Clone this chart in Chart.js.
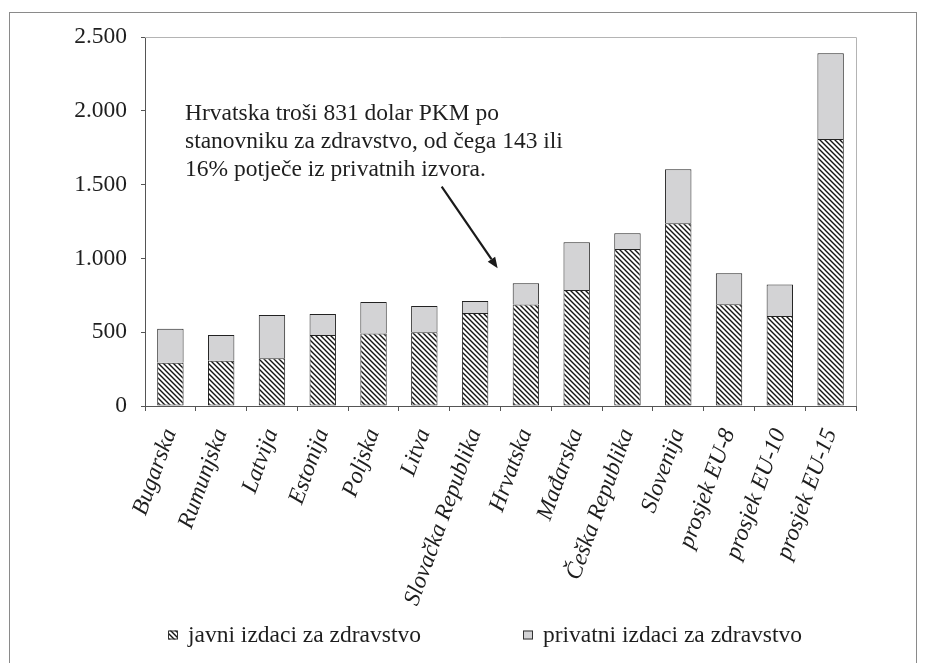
<!DOCTYPE html>
<html>
<head>
<meta charset="utf-8">
<script src="https://cdn.jsdelivr.net/npm/chart.js@4"></script>
<style>
  html, body { margin: 0; padding: 0; background: #fff; }
  #frame { position: absolute; left: 9px; top: 12px; width: 906px; height: 700px; border: 1px solid #8a8a8a; }
  #wrap { position: absolute; left: 0; top: 0; width: 928px; height: 663px; }
</style>
</head>
<body>
<div id="frame"></div>
<div id="wrap"><canvas id="c" width="928" height="663"></canvas></div>
<script>
// Health spending per capita (USD PPP), public and private parts
const categories = [
  'Bugarska', 'Rumunjska', 'Latvija', 'Estonija', 'Poljska', 'Litva',
  'Slovačka Republika', 'Hrvatska', 'Mađarska', 'Češka Republika',
  'Slovenija', 'prosjek EU-8', 'prosjek EU-10', 'prosjek EU-15'
];
const publicSpending  = [293, 307, 323, 481, 492, 499, 630, 688, 786, 1064, 1238, 689, 610, 1809];
const privateSpending = [231, 174, 294, 142, 213, 178,  81, 143, 323,  106,  366, 210, 214,  581];
const yTicks = [0, 500, 1000, 1500, 2000, 2500];
const seriesNames = ['javni izdaci za zdravstvo', 'privatni izdaci za zdravstvo'];
const noteLines = [
  'Hrvatska troši 831 dolar PKM po',
  'stanovniku za zdravstvo, od čega 143 ili',
  '16% potječe iz privatnih izvora.'
];

const SERIF = '"Liberation Serif", "Times New Roman", serif';
const FONT_SIZE = 23.5;
const TEXT = '#1e1e1e';
const AXIS_H = 200;

const canvas = document.getElementById('c');
const mainCtx = canvas.getContext('2d');

// diagonal hatch fill for the public share
function makeHatch() {
  const s = 5;
  const t = document.createElement('canvas');
  t.width = s; t.height = s;
  const g = t.getContext('2d');
  g.fillStyle = '#ffffff';
  g.fillRect(0, 0, s, s);
  g.strokeStyle = '#141414';
  g.lineWidth = 1.4;
  g.beginPath();
  g.moveTo(-1, -1); g.lineTo(s + 1, s + 1);
  g.moveTo(-1, s - 1); g.lineTo(1, s + 1);
  g.moveTo(s - 1, -1); g.lineTo(s + 1, 1);
  g.stroke();
  return mainCtx.createPattern(t, 'repeat');
}
const hatch = makeHatch();
const privateFill = '#d3d3d5';

function thousands(v) {
  return String(v).replace(/\B(?=(\d{3})+(?!\d))/g, '.');
}

// light frame on the top and right of the plot area
const plotFrame = {
  id: 'plotFrame',
  beforeDatasetsDraw(chart) {
    const { ctx, chartArea: a } = chart;
    ctx.save();
    ctx.strokeStyle = '#b4b4b4';
    ctx.lineWidth = 1;
    ctx.beginPath();
    ctx.moveTo(a.left, a.top + 0.5);
    ctx.lineTo(a.right + 0.5, a.top + 0.5);
    ctx.lineTo(a.right + 0.5, a.bottom);
    ctx.stroke();
    ctx.restore();
  }
};

// callout text and arrow pointing at Hrvatska
const note = {
  id: 'note',
  afterDatasetsDraw(chart) {
    const { ctx, scales: { x, y } } = chart;
    ctx.save();
    ctx.font = FONT_SIZE + 'px ' + SERIF;
    ctx.fillStyle = TEXT;
    ctx.textAlign = 'left';
    ctx.textBaseline = 'alphabetic';
    const tx = x.getPixelForValue(0.288);
    const ty = y.getPixelForValue(1935);
    noteLines.forEach((line, i) => ctx.fillText(line, tx, ty + i * 28));

    const x0 = x.getPixelForValue(5.342), y0 = y.getPixelForValue(1486);
    const x1 = x.getPixelForValue(6.444), y1 = y.getPixelForValue(933);
    const ang = Math.atan2(y1 - y0, x1 - x0);
    const head = 11, half = 4.5;
    const bx = x1 - head * Math.cos(ang), by = y1 - head * Math.sin(ang);
    ctx.strokeStyle = '#1a1a1a';
    ctx.lineWidth = 2.2;
    ctx.beginPath();
    ctx.moveTo(x0, y0);
    ctx.lineTo(bx, by);
    ctx.stroke();
    ctx.fillStyle = '#1a1a1a';
    ctx.beginPath();
    ctx.moveTo(x1, y1);
    ctx.lineTo(bx + half * Math.sin(ang), by - half * Math.cos(ang));
    ctx.lineTo(bx - half * Math.sin(ang), by + half * Math.cos(ang));
    ctx.closePath();
    ctx.fill();
    ctx.restore();
  }
};

// legend row under the category labels
const legendRow = {
  id: 'legendRow',
  afterDraw(chart) {
    const { ctx, chartArea: a } = chart;
    const cy = 635;
    const starts = [a.left + 23, a.left + 378];
    ctx.save();
    ctx.font = FONT_SIZE + 'px ' + SERIF;
    ctx.textBaseline = 'middle';
    ctx.textAlign = 'left';
    chart.data.datasets.forEach((ds, i) => {
      const bx = starts[i];
      ctx.fillStyle = ds.backgroundColor;
      ctx.fillRect(bx, cy - 4.5, 10, 9);
      ctx.strokeStyle = '#333';
      ctx.lineWidth = 1;
      ctx.strokeRect(bx + 0.5, cy - 4, 9, 8);
      ctx.fillStyle = TEXT;
      ctx.fillText(ds.label, bx + 20, cy + 1);
    });
    ctx.restore();
  }
};

new Chart(canvas, {
  type: 'bar',
  data: {
    labels: categories,
    datasets: [
      {
        label: seriesNames[0],
        data: publicSpending,
        backgroundColor: hatch,
        borderColor: '#222',
        borderWidth: 1,
        borderSkipped: false,
        barPercentage: 0.52,
        categoryPercentage: 1
      },
      {
        label: seriesNames[1],
        data: privateSpending,
        backgroundColor: privateFill,
        borderColor: '#222',
        borderWidth: 1,
        borderSkipped: 'bottom',
        barPercentage: 0.52,
        categoryPercentage: 1
      }
    ]
  },
  options: {
    responsive: false,
    animation: false,
    devicePixelRatio: 1,
    layout: { padding: { top: 37, right: 72, bottom: 663 - 406 - AXIS_H, left: 0 } },
    plugins: {
      legend: { display: false },
      tooltip: { enabled: false }
    },
    scales: {
      x: {
        stacked: true,
        afterFit(s) { s.height = AXIS_H; },
        grid: { offset: true, drawOnChartArea: false, drawTicks: true, tickLength: 5, color: '#555' },
        border: { color: '#555', width: 1 },
        ticks: {
          autoSkip: false,
          maxRotation: 70,
          minRotation: 70,
          padding: 14,
          color: TEXT,
          font: { family: SERIF, size: FONT_SIZE, style: 'italic' }
        }
      },
      y: {
        stacked: true,
        min: 0,
        max: 2500,
        afterFit(s) { s.width = 145; },
        afterBuildTicks(s) { s.ticks = yTicks.map(v => ({ value: v })); },
        grid: { drawOnChartArea: false, drawTicks: true, tickLength: 4, color: '#555' },
        border: { color: '#555', width: 1 },
        ticks: {
          padding: 14,
          color: TEXT,
          font: { family: SERIF, size: FONT_SIZE },
          callback: v => thousands(v)
        }
      }
    }
  },
  plugins: [plotFrame, note, legendRow]
});
</script>
</body>
</html>
